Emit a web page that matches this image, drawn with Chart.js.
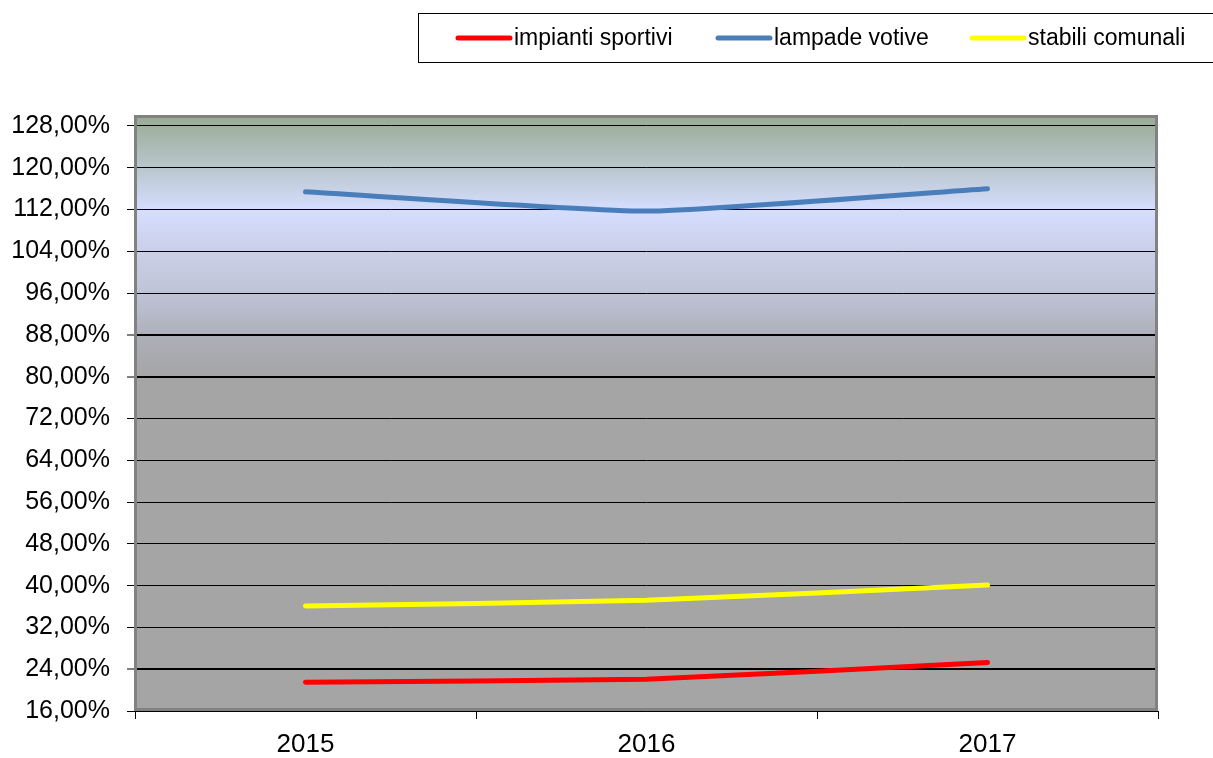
<!DOCTYPE html>
<html>
<head>
<meta charset="utf-8">
<script src="https://cdn.jsdelivr.net/npm/chart.js@4/dist/chart.umd.min.js"></script>
<style>
  html, body { margin: 0; padding: 0; background: #fff; }
  #wrap { width: 1213px; height: 758px; }
</style>
</head>
<body>
<div id="wrap"><canvas id="chart" width="1213" height="758"></canvas></div>
<script>
// dati
const anni = ["2015", "2016", "2017"];
const impiantiSportivi = [21.5, 22.1, 25.3];
const lampadeVotive = [115.4, 111.7, 116.0];
const stabiliComunali = [36.1, 37.2, 40.1];
const yTicks = [16, 24, 32, 40, 48, 56, 64, 72, 80, 88, 96, 104, 112, 120, 128];

const FONT = "'Liberation Sans', Arial, sans-serif";

// sfondo a gradiente + cornice dell'area del grafico
const plotBg = {
  id: "plotBg",
  beforeDraw(chart) {
    const { ctx, chartArea: a } = chart;
    const h = a.bottom - a.top;
    const g = ctx.createLinearGradient(0, a.top, 0, a.bottom);
    g.addColorStop(0, "#97aa93");
    g.addColorStop(52 / h, "#b9c6cc");
    g.addColorStop(95 / h, "#d5deff");
    g.addColorStop(135 / h, "#cbd0e8");
    g.addColorStop(177 / h, "#c0c4d8");
    g.addColorStop(219 / h, "#aeb0ba");
    g.addColorStop(262 / h, "#a5a5a5");
    g.addColorStop(1, "#a5a5a5");
    ctx.save();
    ctx.fillStyle = g;
    ctx.fillRect(a.left, a.top, a.right - a.left, a.bottom - a.top);
    ctx.restore();
  },
  afterDatasetsDraw(chart) {
    const { ctx, chartArea: a } = chart;
    ctx.save();
    ctx.strokeStyle = "#828282";
    ctx.lineWidth = 3;
    ctx.strokeRect(a.left + 0.5, a.top + 1.5, a.right - a.left - 2, a.bottom - a.top - 3);
    ctx.strokeStyle = "#000";
    ctx.lineWidth = 1;
    ctx.beginPath();
    ctx.moveTo(a.left, a.bottom + 0.5);
    ctx.lineTo(a.right, a.bottom + 0.5);
    ctx.stroke();
    ctx.restore();
  }
};

// legenda con riquadro
const boxLegend = {
  id: "boxLegend",
  afterDraw(chart) {
    const { ctx } = chart;
    ctx.save();
    ctx.strokeStyle = "#000";
    ctx.lineWidth = 1;
    ctx.strokeRect(418.5, 13.5, 800, 49);
    const xs = [458, 718, 972];
    ctx.font = "23px " + FONT;
    ctx.textBaseline = "middle";
    chart.data.datasets.forEach((ds, i) => {
      ctx.strokeStyle = ds.borderColor;
      ctx.lineWidth = 5;
      ctx.lineCap = "round";
      ctx.beginPath();
      ctx.moveTo(xs[i], 38);
      ctx.lineTo(xs[i] + 52, 38);
      ctx.stroke();
      ctx.fillStyle = "#000";
      ctx.fillText(ds.label, xs[i] + 56, 39);
    });
    ctx.restore();
  }
};

const ctx = document.getElementById("chart").getContext("2d");
new Chart(ctx, {
  type: "line",
  data: {
    labels: anni,
    datasets: [
      { label: "impianti sportivi", data: impiantiSportivi, borderColor: "#ff0000" },
      { label: "lampade votive", data: lampadeVotive, borderColor: "#4a7ebb" },
      { label: "stabili comunali", data: stabiliComunali, borderColor: "#ffff00" }
    ]
  },
  options: {
    responsive: false,
    animation: false,
    devicePixelRatio: 1,
    layout: { padding: { top: 115, right: 55, left: 0, bottom: 0 } },
    elements: {
      line: { borderWidth: 5, tension: 0.15, borderCapStyle: "round" },
      point: { radius: 0 }
    },
    plugins: {
      legend: { display: false },
      tooltip: { enabled: false }
    },
    scales: {
      x: {
        offset: true,
        border: { display: false },
        grid: { offset: true, drawOnChartArea: false, drawTicks: true, tickLength: 8, color: "#000" },
        ticks: { color: "#000", font: { family: FONT, size: 26 }, padding: 10 },
        afterFit(s) { s.height = 47; }
      },
      y: {
        min: 16,
        max: 130.1,
        border: { display: false },
        grid: {
          color: "#000",
          lineWidth: (c) => ([24, 80, 88].includes(c.tick && c.tick.value) ? 2 : 1),
          tickLength: 8,
          tickColor: "#000",
          tickWidth: 1
        },
        ticks: {
          color: "#000",
          font: { family: FONT, size: 25 },
          padding: 17,
          callback: (v) => v.toFixed(2).replace(".", ",") + "%"
        },
        afterBuildTicks(s) { s.ticks = yTicks.map(v => ({ value: v })); },
        afterFit(s) { s.width = 135; }
      }
    }
  },
  plugins: [plotBg, boxLegend]
});
</script>
</body>
</html>
